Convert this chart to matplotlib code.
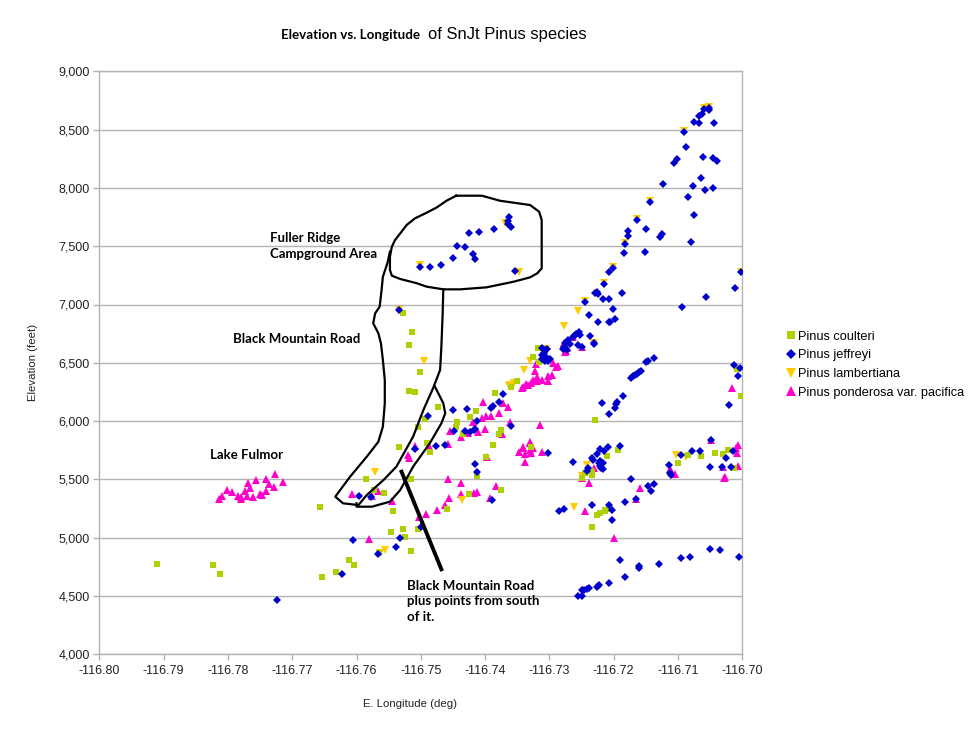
import numpy as np
import matplotlib
matplotlib.use("Agg")
import matplotlib.pyplot as plt
from matplotlib.ticker import FuncFormatter, MultipleLocator
from matplotlib.lines import Line2D

# Pinus coulteri
coulteri_lon = [-116.7911, -116.7823, -116.7812, -116.7657, -116.7654, -116.7632, -116.7612, -116.7604,
                -116.7565, -116.7547, -116.7528, -116.7525, -116.7515, -116.7505, -116.7544, -116.7459,
                -116.7585, -116.7573, -116.7558, -116.7515, -116.7425, -116.7375, -116.7534, -116.7491,
                -116.7486, -116.7387, -116.7399, -116.7412, -116.7494, -116.7505, -116.7443, -116.7446,
                -116.7434, -116.7375, -116.7378, -116.7474, -116.7414, -116.7423, -116.7384, -116.7359,
                -116.7351, -116.7502, -116.7519, -116.7509, -116.7527, -116.7513, -116.7519, -116.7317,
                -116.7326, -116.7316, -116.7229, -116.7210, -116.7234, -116.7234, -116.7244, -116.7250,
                -116.7235, -116.7213, -116.7208, -116.7222, -116.7226, -116.7214, -116.7328, -116.7233,
                -116.7194, -116.7008, -116.7002, -116.7100, -116.7084, -116.7064, -116.7042, -116.7030,
                -116.7022, -116.7013]
coulteri_elev = [4772, 4763, 4691, 5261, 4660, 4706, 4809, 4763,
                 4871, 5046, 5072, 5003, 4883, 5072, 5226, 5246,
                 5501, 5407, 5381, 5501, 5372, 5407, 5775, 5812,
                 5732, 5792, 5689, 5527, 6015, 5947, 5995, 5947,
                 5892, 5921, 5889, 6118, 6089, 6035, 6238, 6295,
                 6341, 6418, 6256, 6247, 6924, 6764, 6655, 6624,
                 6547, 6507, 6009, 5698, 5566, 5538, 5552, 5509,
                 5569, 5235, 5243, 5209, 5195, 5232, 5775, 5094,
                 5749, 6444, 6218, 5638, 5707, 5698, 5724, 5715,
                 5749, 5595]

# Pinus jeffreyi
jeffreyi_lon = [-116.7724, -116.7622, -116.7605, -116.7567, -116.7538, -116.7533, -116.7499, -116.7596,
                -116.7577, -116.7509, -116.7476, -116.7462, -116.7489, -116.7534,
                -116.7501, -116.7486, -116.7469, -116.7450, -116.7443, -116.7431, -116.7425, -116.7410,
                -116.7419, -116.7415, -116.7386, -116.7363, -116.7364, -116.7364, -116.7360, -116.7353,
                -116.7450, -116.7428, -116.7413, -116.7449, -116.7431, -116.7423, -116.7418, -116.7415,
                -116.7391, -116.7387, -116.7379, -116.7372, -116.7360, -116.7415, -116.7412, -116.7390,
                -116.7312, -116.7307, -116.7304, -116.7309, -116.7312, -116.7307, -116.7304, -116.7302,
                -116.7307, -116.7299, -116.7312, -116.7302, -116.7285, -116.7277, -116.7233,
                -116.7254, -116.7252, -116.7258, -116.7261, -116.7264, -116.7271, -116.7275, -116.7268,
                -116.7276, -116.7279, -116.7273, -116.7256, -116.7250, -116.7237, -116.7230, -116.7277,
                -116.7244, -116.7239, -116.7224, -116.7207, -116.7218, -116.7207, -116.7264,
                -116.7059, -116.7052, -116.7052, -116.7062, -116.7067, -116.7075, -116.7067, -116.7044,
                -116.7090, -116.7087, -116.7102, -116.7106, -116.7061, -116.7046, -116.7039, -116.7065,
                -116.7077, -116.7058, -116.7046, -116.7124, -116.7085, -116.7144, -116.7075, -116.7164,
                -116.7150, -116.7178, -116.7178, -116.7125, -116.7128, -116.7080, -116.7182, -116.7184,
                -116.7151, -116.7201, -116.7208, -116.7215, -116.7002, -116.7012, -116.7056, -116.7094,
                -116.7187, -116.7226, -116.7229, -116.7225, -116.7217, -116.7208, -116.7201, -116.7198,
                -116.7206, -116.7231,
                -116.7138, -116.7146, -116.7149, -116.7158, -116.7161, -116.7164, -116.7167, -116.7170,
                -116.7173, -116.7185, -116.7195, -116.7196, -116.7198, -116.7013, -116.7003, -116.7006,
                -116.7020, -116.7048, -116.7190, -116.7209, -116.7215, -116.7221, -116.7226, -116.7233,
                -116.7232, -116.7221, -116.7219, -116.7217, -116.7223, -116.7219, -116.7217, -116.7221,
                -116.7240, -116.7242, -116.7173, -116.7146, -116.7142, -116.7137, -116.7165, -116.7182,
                -116.7207, -116.7203, -116.7202, -116.7095, -116.7114, -116.7112, -116.7111, -116.7078,
                -116.7066, -116.7025, -116.7014, -116.7031, -116.7017, -116.7051,
                -116.7190, -116.7160, -116.7161, -116.7182, -116.7129, -116.7095, -116.7082, -116.7051,
                -116.7034, -116.7005, -116.7208, -116.7223, -116.7226, -116.7238, -116.7242, -116.7246,
                -116.7250, -116.7255, -116.7249]
jeffreyi_elev = [4466, 4691, 4980, 4860, 4920, 5000, 5094, 5355,
                 5346, 5758, 5786, 5798, 6044, 6953,
                 7324, 7321, 7339, 7396, 7504, 7490, 7610, 7624,
                 7433, 7393, 7647, 7753, 7719, 7688, 7662, 7290,
                 6095, 6106, 5998, 5918, 5915, 5909, 5924, 5930,
                 6115, 6129, 6166, 6230, 5958, 5635, 5561, 5323,
                 6624, 6610, 6616, 6581, 6567, 6552, 6538, 6518,
                 6518, 6530, 6530, 5726, 5226, 5243, 5280,
                 6761, 6741, 6744, 6730, 6719, 6696, 6672, 6664,
                 6629, 6616, 6610, 6650, 6638, 6732, 6664, 6638,
                 7019, 6912, 6847, 6850, 6153, 6058, 5652,
                 8676, 8683, 8668, 8634, 8617, 8568, 8556, 8556,
                 8477, 8348, 8245, 8213, 8262, 8256, 8233, 8085,
                 8016, 7984, 7996, 8031, 7924, 7876, 7765, 7722,
                 7647, 7628, 7590, 7605, 7581, 7533, 7521, 7444,
                 7453, 7310, 7276, 7173, 7276, 7141, 7062, 6976,
                 7096, 7110, 7096, 7090, 7044, 7044, 6961, 6878,
                 6852, 6667,
                 6544, 6518, 6507, 6430, 6418, 6404, 6393, 6384,
                 6372, 6213, 6161, 6144, 6112, 6478, 6453, 6387,
                 6135, 5838, 5786, 5775, 5746, 5758, 5720, 5683,
                 5666, 5660, 5652, 5643, 5638, 5595, 5587, 5615,
                 5600, 5572, 5501, 5441, 5398, 5458, 5332, 5304,
                 5278, 5240, 5152, 5707, 5621, 5557, 5538, 5746,
                 5746, 5686, 5744, 5609, 5609, 5609,
                 4806, 4757, 4738, 4660, 4772, 4823, 4832, 4906,
                 4892, 4837, 4614, 4594, 4580, 4571, 4557, 4551,
                 4551, 4500, 4500]

# Pinus lambertiana
lambertiana_lon = [-116.7534, -116.7495, -116.7369, -116.7347, -116.7501, -116.7571, -116.7556, -116.7563,
                   -116.7436, -116.7361, -116.7255, -116.7278, -116.7339, -116.7330, -116.7355, -116.7363,
                   -116.7305, -116.7242, -116.7261, -116.7059, -116.7052, -116.7090, -116.7144, -116.7164,
                   -116.7182, -116.7201, -116.7215, -116.7244, -116.7231, -116.7002, -116.7103, -116.7088,
                   -116.7250]
lambertiana_elev = [6953, 6515, 7701, 7279, 7336, 5566, 4895, 4871,
                    5326, 6312, 6944, 6818, 6438, 6515, 6329, 6301,
                    6616, 5623, 5266, 8683, 8697, 8485, 7885, 7730,
                    7530, 7319, 7182, 7027, 6672, 7281, 5712, 5689,
                    5532]

# Pinus ponderosa var. pacifica
ponderosa_lon = [-116.7814, -116.7809, -116.7802, -116.7794, -116.7784, -116.7780, -116.7779, -116.7773,
                 -116.7770, -116.7769, -116.7765, -116.7761, -116.7756, -116.7750, -116.7747, -116.7741,
                 -116.7741, -116.7736, -116.7729, -116.7727, -116.7714,
                 -116.7404, -116.7372, -116.7364, -116.7378, -116.7405, -116.7399, -116.7391, -116.7419,
                 -116.7361, -116.7455, -116.7437, -116.7427, -116.7411, -116.7400, -116.7457, -116.7509,
                 -116.7520, -116.7518, -116.7488, -116.7347, -116.7341, -116.7330, -116.7330, -116.7397,
                 -116.7457, -116.7437, -116.7437, -116.7456, -116.7418, -116.7413, -116.7383, -116.7392,
                 -116.7607, -116.7576, -116.7567, -116.7545, -116.7463, -116.7475, -116.7492, -116.7503,
                 -116.7580, -116.7374,
                 -116.7322, -116.7321, -116.7294, -116.7290, -116.7287, -116.7302, -116.7296, -116.7302,
                 -116.7320, -116.7319, -116.7325, -116.7329, -116.7336, -116.7341, -116.7342, -116.7312,
                 -116.7333, -116.7277, -116.7274, -116.7263, -116.7250, -116.7314, -116.7330, -116.7341,
                 -116.7338, -116.7328, -116.7312, -116.7338, -116.7325, -116.7238, -116.7244,
                 -116.7016, -116.7049, -116.7007, -116.7010, -116.7008, -116.7007, -116.7027, -116.7028,
                 -116.7030, -116.7112, -116.7111, -116.7104, -116.7159, -116.7165, -116.7199, -116.7231,
                 -116.7249, -116.7276, -116.7273]
ponderosa_elev = [5329, 5360, 5412, 5389, 5360, 5346, 5332, 5403,
                  5360, 5467, 5429, 5352, 5492, 5372, 5369, 5501,
                  5398, 5458, 5432, 5544, 5475,
                  6161, 6158, 6124, 6072, 6029, 6044, 6041, 5995,
                  5995, 5918, 5866, 5895, 5904, 5932, 5806, 5786,
                  5709, 5686, 5786, 5738, 5772, 5752, 5815, 5689,
                  5506, 5467, 5375, 5343, 5386, 5395, 5446, 5343,
                  5377, 5358, 5403, 5312, 5278, 5238, 5206, 5178,
                  4986, 5887,
                  6430, 6487, 6496, 6467, 6475, 6387, 6395, 6346,
                  6375, 6344, 6352, 6324, 6316, 6295, 6284, 6352,
                  6310, 6667, 6604, 6719, 6638, 5964, 5823, 5775,
                  5718, 5724, 5732, 5647, 5769, 5472, 5226,
                  6281, 5838, 5798, 5767, 5724, 5615, 5523, 5515,
                  5609, 5587, 5575, 5544, 5426, 5334, 5000, 5600,
                  5515, 6595, 6624]

# hand drawn outlines (data units)
loop_lon = [-116.7445, -116.7405, -116.7377, -116.7330, -116.7316, -116.7312, -116.7312, -116.7319,
            -116.7330, -116.7356, -116.7398, -116.7439, -116.7465, -116.7491, -116.7506, -116.7532,
            -116.7545, -116.7548, -116.7548, -116.7545, -116.7540, -116.7532, -116.7522, -116.7509,
            -116.7491, -116.7475, -116.7460, -116.7445]
loop_elev = [7933, 7933, 7890, 7853, 7796, 7725, 7310, 7267,
             7233, 7195, 7147, 7130, 7130, 7153, 7182, 7219,
             7247, 7296, 7410, 7496, 7553, 7610, 7682, 7739,
             7787, 7833, 7890, 7933]
stem_lon = [-116.7548, -116.7552, -116.7559, -116.7561, -116.7564, -116.7571, -116.7574, -116.7566,
            -116.7562, -116.7559, -116.7556, -116.7556, -116.7559, -116.7566, -116.7584, -116.7610,
            -116.7633, -116.7621, -116.7597, -116.7584, -116.7558, -116.7538, -116.7512, -116.7496,
            -116.7481, -116.7470, -116.7468, -116.7466, -116.7465]
stem_elev = [7453, 7353, 7238, 7124, 6981, 6924, 6839, 6753,
             6667, 6524, 6352, 6153, 5952, 5823, 5695, 5523,
             5352, 5295, 5280, 5366, 5495, 5609, 5866, 6095,
             6281, 6438, 6638, 6924, 7130]
inner_lon = [-116.7478, -116.7465, -116.7462, -116.7468, -116.7486, -116.7512, -116.7532, -116.7548,
             -116.7576, -116.7600, -116.7600]
inner_elev = [6295, 6153, 6067, 5981, 5810, 5609, 5409, 5309,
              5266, 5266, 5295]
pointer_lon = [-116.7530, -116.7468]
pointer_elev = [5566, 4729]

notes = [("Fuller Ridge\nCampground Area", -116.7735, 7502),
         ("Black Mountain Road", -116.7792, 6704),
         ("Lake Fulmor", -116.7828, 5709),
         ("Black Mountain Road\nplus points from south\nof it.", -116.7522, 4457)]

c_coulteri = "#aecf00"
c_jeffreyi = "#0000cc"
c_lamb = "#ffcc00"
c_pond = "#ff00cc"

W, H = 980, 731
fig = plt.figure(figsize=(W / 100, H / 100), dpi=100)
ax = fig.add_axes([99.3 / W, (H - 654.3) / H, 643 / W, 583 / H])

ax.plot(ponderosa_lon, ponderosa_elev, ls="none", marker="^", ms=5.2, color=c_pond, mew=0, zorder=3)
ax.plot(lambertiana_lon, lambertiana_elev, ls="none", marker="v", ms=5.2, color=c_lamb, mew=0, zorder=3)
ax.plot(coulteri_lon, coulteri_elev, ls="none", marker="s", ms=4.3, color=c_coulteri, mew=0, zorder=3)
ax.plot(jeffreyi_lon, jeffreyi_elev, ls="none", marker="D", ms=3.8, color=c_jeffreyi, mew=0, zorder=4)

for lo, el in [(loop_lon, loop_elev), (stem_lon, stem_elev), (inner_lon, inner_elev)]:
    ax.plot(lo, el, color="black", lw=1.6, zorder=5, solid_joinstyle="round")
ax.plot(pointer_lon, pointer_elev, color="black", lw=2.8, zorder=5)

for txt, lo, el in notes:
    ax.text(lo, el, txt, fontsize=9.5, fontweight="bold", family="Lato", va="center", ha="left",
            linespacing=1.35, color="black", zorder=6)

ax.set_xlim(-116.80, -116.70)
ax.set_ylim(4000, 9000)
ax.xaxis.set_major_locator(MultipleLocator(0.01))
ax.yaxis.set_major_locator(MultipleLocator(500))
ax.xaxis.set_major_formatter(FuncFormatter(lambda v, p: f"{v:.2f}"))
ax.yaxis.set_major_formatter(FuncFormatter(lambda v, p: f"{v:,.0f}"))
ax.yaxis.grid(True, color="#b3b3b3", lw=1)
ax.set_axisbelow(True)
for s in ax.spines.values():
    s.set_color("#b3b3b3")
    s.set_linewidth(1)
ax.tick_params(direction="out", length=4, width=1, color="#b3b3b3", labelsize=9, labelcolor="#222222")
ax.tick_params(axis="x", pad=4)
ax.tick_params(axis="y", pad=3)
for lab in ax.get_xticklabels() + ax.get_yticklabels():
    lab.set_family("Liberation Sans")

fig.text(410 / W, 1 - 704 / H, "E. Longitude (deg)", ha="center", va="center", fontsize=8.2,
         family="Liberation Sans", color="#222222")
fig.text(33 / W, 1 - 362 / H, "Elevation (feet)", ha="center", va="center", rotation=90, fontsize=8.2,
         family="Liberation Sans", color="#222222")

fig.text(281 / W, 1 - 35 / H, "Elevation vs. Longitude", ha="left", va="center", fontsize=9.6,
         fontweight="bold", family="Lato")
fig.text(428 / W, 1 - 34 / H, "of SnJt Pinus species", ha="left", va="center", fontsize=11.9,
         family="Liberation Sans")

handles = [Line2D([], [], ls="none", marker="s", ms=6, color=c_coulteri, mew=0),
           Line2D([], [], ls="none", marker="D", ms=5, color=c_jeffreyi, mew=0),
           Line2D([], [], ls="none", marker="v", ms=7, color=c_lamb, mew=0),
           Line2D([], [], ls="none", marker="^", ms=7, color=c_pond, mew=0)]
labels = ["Pinus coulteri", "Pinus jeffreyi", "Pinus lambertiana", "Pinus ponderosa var. pacifica"]
fig.legend(handles, labels, loc="center left", bbox_to_anchor=(786 / W, 1 - 364.7 / H),
           frameon=False, handlelength=0.8, handletextpad=0.15, borderpad=0, borderaxespad=0,
           labelspacing=0.53, prop={"family": "Liberation Sans", "size": 9.2})

fig.savefig("out.png", dpi=100)
